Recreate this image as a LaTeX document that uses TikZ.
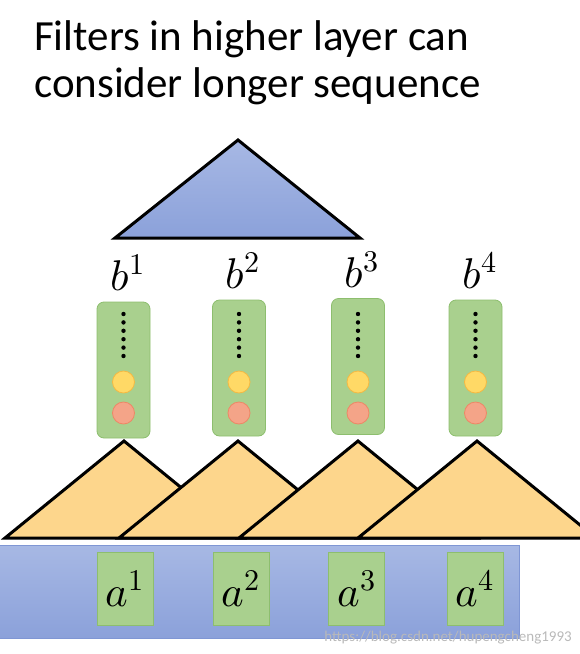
\documentclass[tikz,border=0pt]{standalone}
\usepackage{fontspec}
\usepackage{unicode-math}
\setmainfont{Carlito}
\setmathfont{Latin Modern Math}
\usepackage{xcolor}
\definecolor{cBlueTop}{HTML}{A7B8E4}
\definecolor{cBlueBot}{HTML}{8BA1DA}
\definecolor{cBlueLine}{HTML}{7F96D4}
\definecolor{cGreen}{HTML}{A9D08E}
\definecolor{cGreenLine}{HTML}{8DBE6E}
\definecolor{cYel}{HTML}{FFD966}
\definecolor{cYelLine}{HTML}{F5B942}
\definecolor{cRed}{HTML}{F4A488}
\definecolor{cRedLine}{HTML}{EE8766}
\definecolor{cTri}{HTML}{FDD68C}
\usetikzlibrary{positioning,calc}
\tikzset{
  filt-box/.style={draw=cGreenLine,fill=cGreen,line width=0.8pt,rounded corners=7pt,
    minimum width=53pt,minimum height=136pt,inner sep=0pt},
  in-box/.style={draw=cGreenLine,fill=cGreen,line width=0.8pt,
    minimum width=56pt,minimum height=73pt,inner sep=0pt,
    font=\fontsize{43}{43}\selectfont},
  dot-yel/.style={circle,draw=cYelLine,fill=cYel,line width=0.8pt,minimum size=22pt,inner sep=0pt},
  dot-red/.style={circle,draw=cRedLine,fill=cRed,line width=0.8pt,minimum size=22pt,inner sep=0pt},
  dot-small/.style={circle,fill=black,minimum size=4.4pt,inner sep=0pt},
  lbl-b/.style={font=\fontsize{43}{43}\selectfont,inner sep=0pt},
  tri-layer/.style={draw=black,line width=3pt,fill=cTri},
  tri-top/.style={draw=black,line width=3pt,top color=cBlueTop,bottom color=cBlueBot},
  seq-bar/.style={draw=cBlueLine,line width=1pt,top color=cBlueTop,bottom color=cBlueBot},
}

\begin{document}
\begin{tikzpicture}[x=1pt,y=-1pt]
  \useasboundingbox (0,0) rectangle (580,654);
  \clip (0,0) rectangle (580,654);

  \node[anchor=base west,inner sep=0pt,font=\fontsize{43}{43}\selectfont] (title1) at (34,50) {Filters in higher layer can};
  \node[anchor=base west,inner sep=0pt,font=\fontsize{43}{43}\selectfont] (title2) at (34,97) {consider longer sequence};

  % upper layer
  \coordinate (top) at (238,140);
  \draw[tri-top] (top) -- (115,238) -- (360,238) -- cycle;

  % sequence of inputs
  \draw[seq-bar] (-5,545) rectangle (519,638);

  % filters of the lower layer
  \foreach \x [count=\i] in {124,238,358,477} {
    \coordinate (apex\i) at (\x,441);
    \draw[tri-layer] ($(apex\i)+(-119,97)$) -- (apex\i) -- ($(apex\i)+(119,97)$) -- cycle;
  }

  \foreach \x/\y [count=\i] in {123.5/370,239/368,358/366.5,475.5/368} {
    \node[filt-box] (f\i) at (\x,\y) {};
    \foreach \k in {0,...,5}
      \node[dot-small] (d\i-\k) at (\x,314+8.4*\k) {};
    \node[dot-yel] (y\i) at (\x,382) {};
    \node[dot-red] (r\i) at (\x,413) {};
    \node[lbl-b,above=11pt of f\i,anchor=base,xshift=4pt] (b\i) {$b^{\i}$};
  }

  \foreach \x [count=\i] in {125,241,356.5,475} {
    \node[in-box] (a\i) at (\x,588.5) {$a^{\i}$};
  }

  \node[anchor=base east,inner sep=0pt,text=gray!55,font=\fontsize{15}{15}\selectfont] (mark) at (572,641) {https://blog.csdn.net/hupengcheng1993};
\end{tikzpicture}
\end{document}
